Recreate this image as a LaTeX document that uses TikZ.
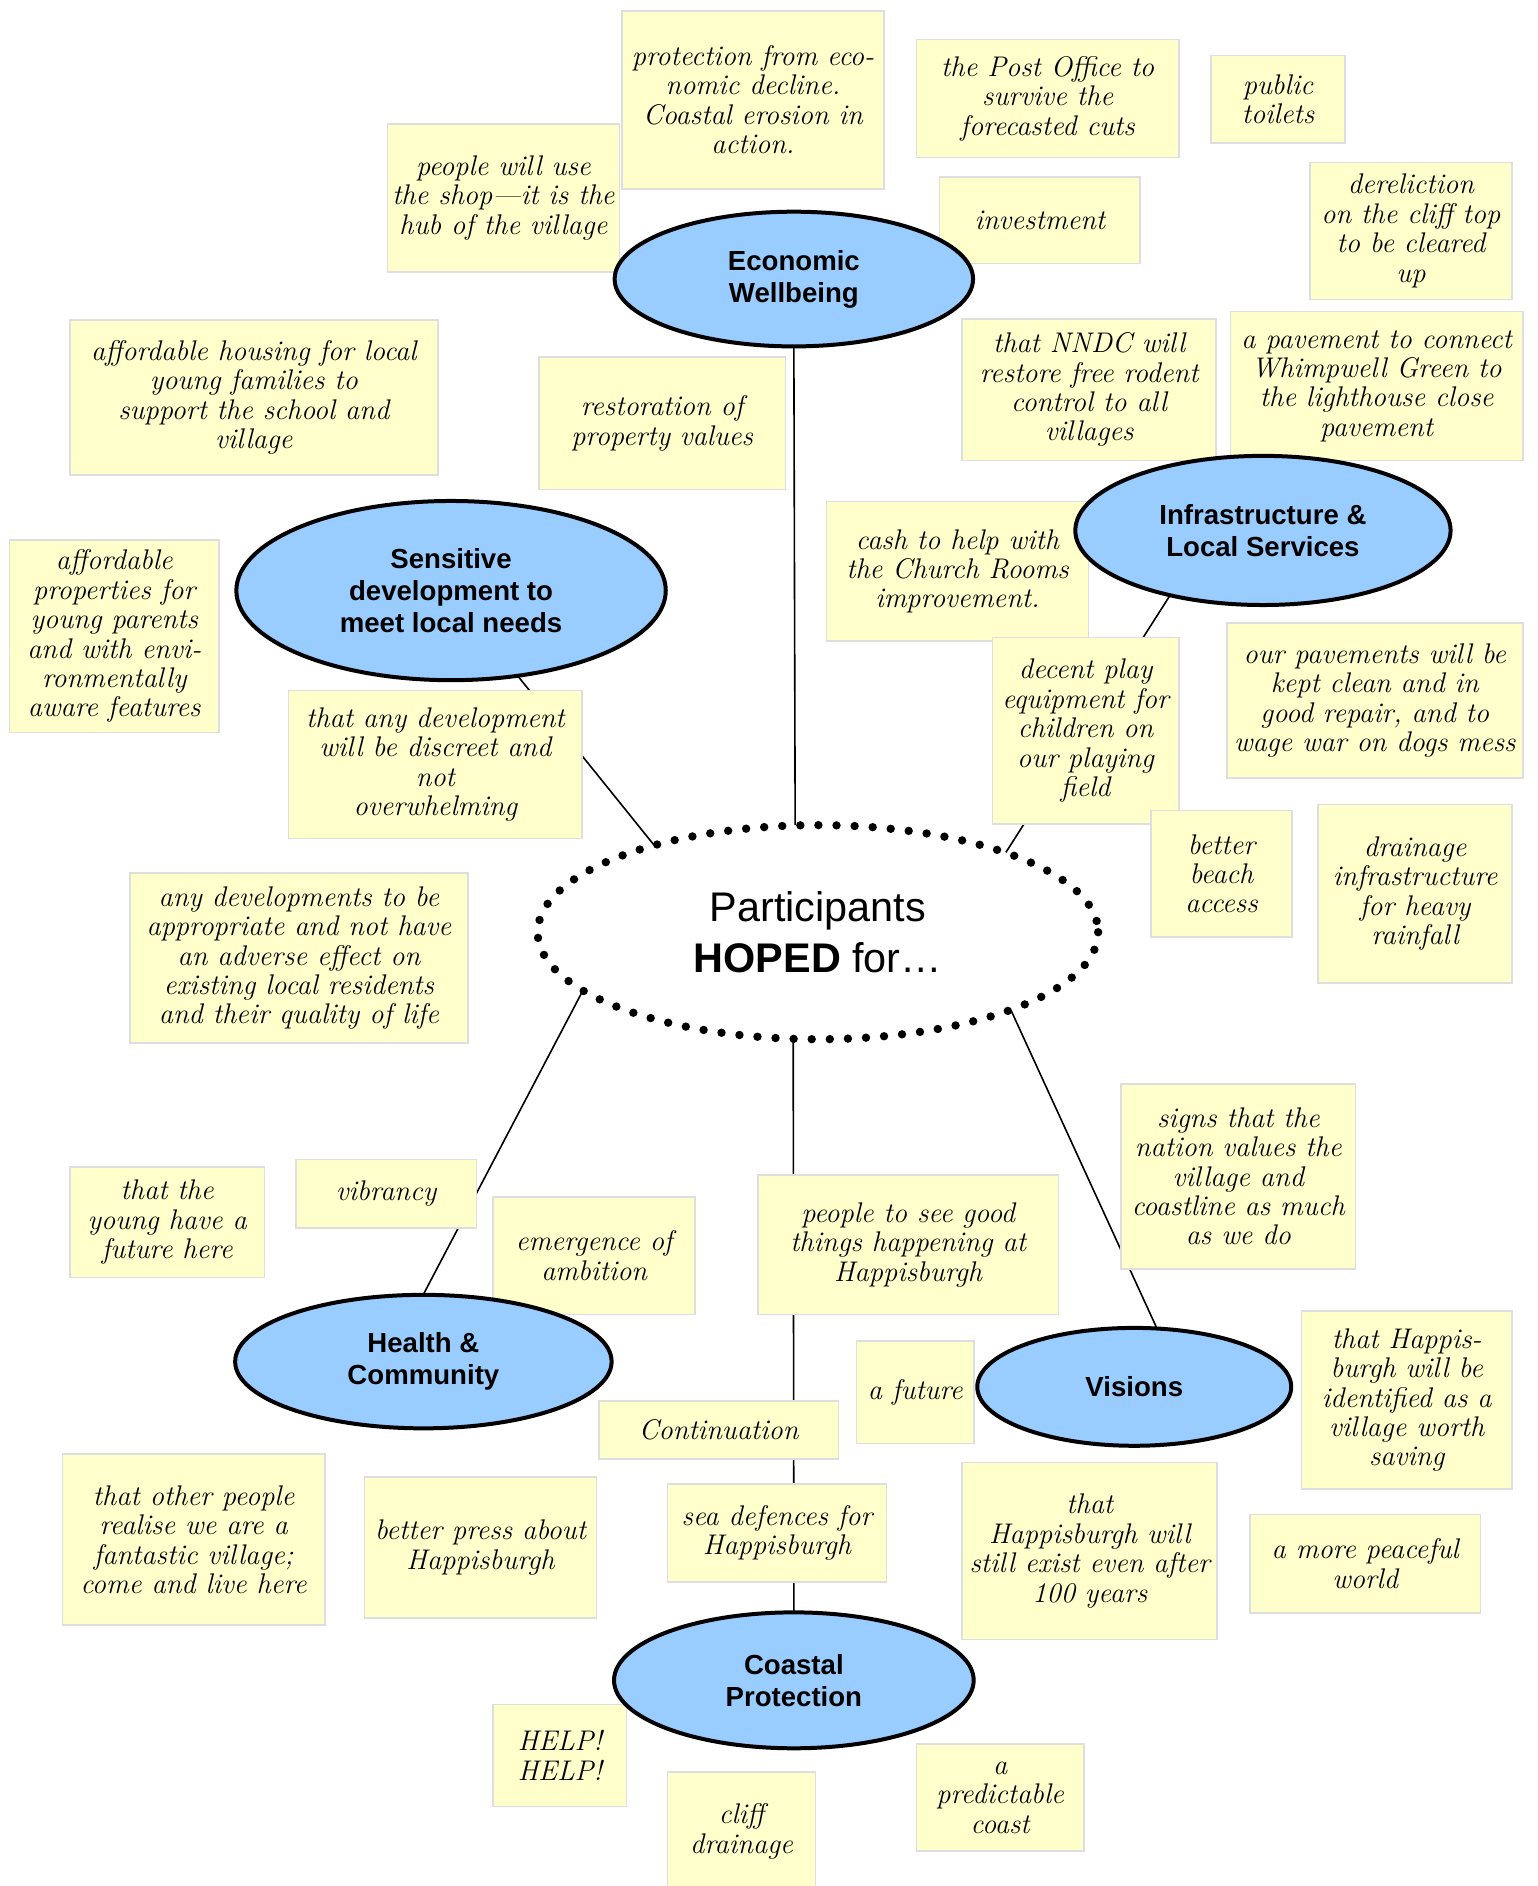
\documentclass[tikz,border=0pt]{standalone}
\usepackage{fontspec}
\setsansfont{Liberation Sans}
\usetikzlibrary{shapes.geometric}
\definecolor{notefill}{HTML}{FFFFCC}
\definecolor{noteedge}{HTML}{DEDEDE}
\definecolor{ovalfill}{HTML}{99CCFF}
\newcommand\unitpx{0.60135pt}
\newcommand\bx[6]{\node[notebox, minimum width={(#4-#2)*\unitpx}, minimum height={(#5-#3)*\unitpx}] (#1) at ({(#2+#4)/2},{(#3+#5)/2}) {#6};}
\tikzset{
  notebox/.style={draw=noteedge, line width=0.8pt, fill=notefill, rectangle, inner sep=0pt, align=center, font=\fontsize{14.2}{14.7}\selectfont\itshape},
  theme/.style={ellipse, draw=black, line width=2pt, fill=ovalfill, inner sep=0pt, align=center, font=\sffamily\bfseries\fontsize{13.8}{16}\selectfont},
  link/.style={draw=black, line width=0.8pt}
}
\begin{document}
\begin{tikzpicture}[x=0.60135pt, y=-0.60135pt]
\useasboundingbox (0,0) rectangle (1278,1568);
% central and theme nodes (positions only, drawn later)
\path (680,775) node[ellipse, minimum width={466*\unitpx}, minimum height={178*\unitpx}, inner sep=0pt] (core) {};
\path (660,232) node[ellipse, minimum width={298*\unitpx}, minimum height={112*\unitpx}, inner sep=0pt] (econ) {};
\path (1050,441) node[ellipse, minimum width={312*\unitpx}, minimum height={124*\unitpx}, inner sep=0pt] (infra) {};
\path (375,491) node[ellipse, minimum width={357*\unitpx}, minimum height={149*\unitpx}, inner sep=0pt] (sens) {};
\path (352,1132) node[ellipse, minimum width={313*\unitpx}, minimum height={111*\unitpx}, inner sep=0pt] (health) {};
\path (943,1153) node[ellipse, minimum width={261*\unitpx}, minimum height={98*\unitpx}, inner sep=0pt] (vis) {};
\path (660,1397) node[ellipse, minimum width={299*\unitpx}, minimum height={113*\unitpx}, inner sep=0pt] (coast) {};
% connectors
\draw[link] (econ.south) -- (core.102.7);
\draw[link] (infra.215) -- (core.23.5);
\draw[link] (sens.308.1) -- (core.152.8);
\draw[link] (health.north) -- (core.194);
\draw[link] (coast.north) -- (core.257.3);
\draw[link] (vis.69.2) -- (core.338.3);
% notes
\bx{n1}{517}{9}{735}{157}{protection from eco-\\nomic decline.\\Coastal erosion in\\action.}
\bx{n2}{762}{33}{980}{131}{the Post Office to\\survive the\\forecasted cuts}
\bx{n3}{1007}{46}{1118}{119}{public\\toilets}
\bx{n4}{322}{103}{515}{226}{people will use\\the shop---it is the\\hub of the village}
\bx{n5}{781}{147}{948}{219}{investment}
\bx{n6}{1089}{135}{1257}{249}{dereliction\\on the cliff top\\to be cleared\\up}
\bx{n7}{58}{266}{364}{395}{affordable housing for local\\young families to\\support the school and\\village}
\bx{n8}{448}{297}{653}{407}{restoration of\\property values}
\bx{n9}{800}{265}{1011}{383}{that NNDC will\\restore free rodent\\control to all\\villages}
\bx{n10}{1023}{259}{1266}{383}{a pavement to connect\\Whimpwell Green to\\the lighthouse close\\pavement}
\bx{n11}{687}{417}{905}{533}{cash to help with\\the Church Rooms\\improvement.}
\bx{n12}{8}{449}{182}{609}{affordable\\properties for\\young parents\\and with envi-\\ronmentally\\aware features}
\bx{n13}{240}{574}{484}{697}{that any development\\will be discreet and\\not\\overwhelming}
\bx{n14}{825}{530}{980}{685}{decent play\\equipment for\\children on\\our playing\\field}
\bx{n15}{1020}{518}{1266}{647}{our pavements will be\\kept clean and in\\good repair, and to\\wage war on dogs mess}
\bx{n16}{957}{674}{1074}{779}{better\\beach\\access}
\bx{n17}{1096}{669}{1257}{817}{drainage\\infrastructure\\for heavy\\rainfall}
\bx{n18}{108}{726}{389}{867}{any developments to be\\appropriate and not have\\an adverse effect on\\existing local residents\\and their quality of life}
\bx{n19}{932}{901}{1127}{1055}{signs that the\\nation values the\\village and\\coastline as much\\as we do}
\bx{n20}{58}{970}{220}{1062}{that the\\young have a\\future here}
\bx{n21}{246}{964}{396}{1021}{vibrancy}
\bx{n22}{410}{995}{578}{1093}{emergence of\\ambition}
\bx{n23}{630}{977}{880}{1093}{people to see good\\things happening at\\Happisburgh}
\bx{n24}{1082}{1090}{1257}{1238}{that Happis-\\burgh will be\\identified as a\\village worth\\saving}
\bx{n25}{712}{1115}{810}{1200}{a future}
\bx{n26}{498}{1165}{697}{1213}{Continuation}
\bx{n27}{52}{1209}{270}{1351}{that other people\\realise we are a\\fantastic village;\\come and live here}
\bx{n28}{303}{1228}{496}{1345}{better press about\\Happisburgh}
\bx{n29}{555}{1234}{737}{1315}{sea defences for\\Happisburgh}
\bx{n30}{800}{1216}{1012}{1363}{that\\Happisburgh will\\still exist even after\\100 years}
\bx{n31}{1039}{1259}{1231}{1341}{a more peaceful\\world}
\bx{n32}{410}{1417}{521}{1502}{HELP!\\HELP!}
\bx{n33}{555}{1473}{678}{1572}{cliff\\drainage}
\bx{n34}{762}{1450}{901}{1539}{a\\predictable\\coast}
% themes drawn on top
\node[theme, minimum width={298*\unitpx}, minimum height={112*\unitpx}] at (econ) {Economic\\Wellbeing};
\node[theme, minimum width={312*\unitpx}, minimum height={124*\unitpx}] at (infra) {Infrastructure \&\\Local Services};
\node[theme, minimum width={357*\unitpx}, minimum height={149*\unitpx}] at (sens) {Sensitive\\development to\\meet local needs};
\node[theme, minimum width={313*\unitpx}, minimum height={111*\unitpx}] at (health) {Health \&\\Community};
\node[theme, minimum width={261*\unitpx}, minimum height={98*\unitpx}] at (vis) {Visions};
\node[theme, minimum width={299*\unitpx}, minimum height={113*\unitpx}] at (coast) {Coastal\\Protection};
% central dotted oval
\draw[line width=4.2pt, line cap=round, dash pattern=on 0pt off 9.05pt, fill=white] (core.center) ellipse [x radius=233, y radius=89];
\node[align=center, font=\sffamily\fontsize{20.7}{25.5}\selectfont] at (core.center) {Participants\\\textbf{HOPED} for\ldots};
\end{tikzpicture}
\end{document}
